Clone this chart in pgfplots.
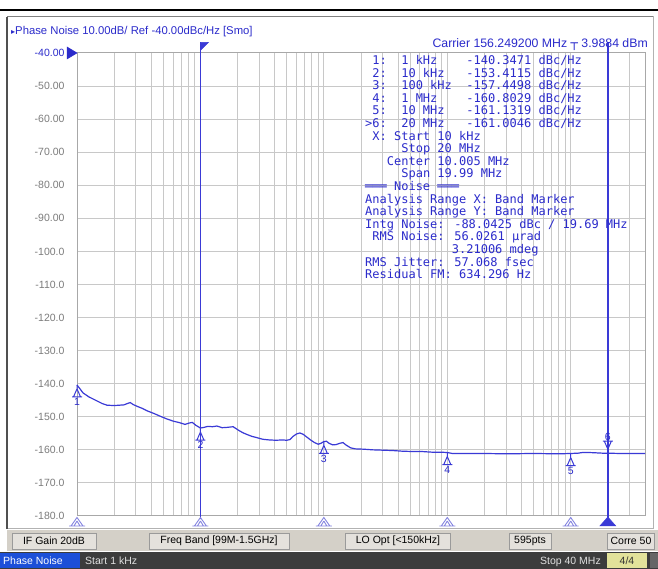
\documentclass[border=0pt]{standalone}
\usepackage{fontspec}
\setmainfont{Liberation Sans}
\newfontfamily\monof{DejaVu Sans Mono}
\newfontfamily\dejavu{DejaVu Sans}
\usepackage{pgfplots}
\pgfplotsset{compat=1.18}
\definecolor{tblue}{HTML}{2B2BCB}
\definecolor{trblue}{HTML}{3A3AD6}
\definecolor{gridg}{HTML}{C8C8C8}
\definecolor{frameg}{HTML}{A8A8A8}
\definecolor{labg}{HTML}{7C7C7C}
\definecolor{mkpurple}{HTML}{8484E0}
\definecolor{barbg}{HTML}{D4D0C8}
\definecolor{boxbg}{HTML}{E4E1DC}
\definecolor{boxedge}{HTML}{9A9A9A}
\definecolor{darkbar}{HTML}{3C3C3C}
\definecolor{pnblue}{HTML}{1C4FD8}
\definecolor{khaki}{HTML}{E2E29A}
\definecolor{panelg}{HTML}{505050}

\pgfdeclareplotmark{mkup}{%
 \pgfpathmoveto{\pgfpoint{0pt}{0pt}}\pgfpathlineto{\pgfpoint{0pt}{-4pt}}%
 \pgfpathmoveto{\pgfpoint{0pt}{-4pt}}\pgfpathlineto{\pgfpoint{3.5pt}{-12pt}}\pgfpathlineto{\pgfpoint{-3.5pt}{-12pt}}\pgfpathclose
 \pgfpathmoveto{\pgfpoint{-5pt}{-12pt}}\pgfpathlineto{\pgfpoint{5pt}{-12pt}}%
 \pgfusepathqstroke}
\pgfdeclareplotmark{mkdown}{%
 \pgfpathmoveto{\pgfpoint{0pt}{0pt}}\pgfpathlineto{\pgfpoint{0pt}{4pt}}%
 \pgfpathmoveto{\pgfpoint{0pt}{4pt}}\pgfpathlineto{\pgfpoint{3.5pt}{12pt}}\pgfpathlineto{\pgfpoint{-3.5pt}{12pt}}\pgfpathclose
 \pgfpathmoveto{\pgfpoint{-5pt}{12pt}}\pgfpathlineto{\pgfpoint{5pt}{12pt}}%
 \pgfusepathqstroke}
\pgfdeclareplotmark{axtri}{%
 \pgfpathmoveto{\pgfpoint{0pt}{-1.5pt}}\pgfpathlineto{\pgfpoint{6pt}{-10pt}}\pgfpathlineto{\pgfpoint{-6pt}{-10pt}}\pgfpathclose
 \pgfpathmoveto{\pgfpoint{0pt}{-5pt}}\pgfpathlineto{\pgfpoint{3pt}{-10pt}}%
 \pgfpathmoveto{\pgfpoint{0pt}{-5pt}}\pgfpathlineto{\pgfpoint{-3pt}{-10pt}}%
 \pgfpathmoveto{\pgfpoint{-8pt}{-10pt}}\pgfpathlineto{\pgfpoint{8pt}{-10pt}}%
 \pgfusepathqstroke}
\pgfdeclareplotmark{axtrif}{%
 \pgfpathmoveto{\pgfpoint{0pt}{-1pt}}\pgfpathlineto{\pgfpoint{8pt}{-10pt}}\pgfpathlineto{\pgfpoint{-8pt}{-10pt}}\pgfpathclose
 \pgfusepathqfillstroke}
\pgfdeclareplotmark{flag}{%
 \pgfpathmoveto{\pgfpoint{0pt}{0pt}}\pgfpathlineto{\pgfpoint{8pt}{0pt}}\pgfpathlineto{\pgfpoint{0pt}{-8pt}}\pgfpathclose
 \pgfusepathqfillstroke}
\pgfdeclareplotmark{refarrow}{%
 \pgfpathmoveto{\pgfpoint{-10pt}{6pt}}\pgfpathlineto{\pgfpoint{0pt}{0pt}}\pgfpathlineto{\pgfpoint{-10pt}{-6pt}}\pgfpathclose
 \pgfusepathqfillstroke}

\newcommand\mf{\monof\fontsize{12}{12.6}\selectfont}
\newcommand\uif{\fontsize{10.5}{12}\selectfont}
\newcommand\tif{\fontsize{11.3}{13}\selectfont}
\newcommand\cif{\fontsize{12.3}{14}\selectfont}

\begin{document}
\begin{tikzpicture}[x=1pt,y=1pt]
\useasboundingbox (0,0) rectangle (658,569);
\fill[white] (0,0) rectangle (658,569);
% top black line
\draw[black, line width=2] (0,559) -- (658,559);
% panel
\draw[draw=gray!60, fill=white, line width=1] (7,40) rectangle (653,552);
\draw[panelg, line width=2] (7,40) -- (7,552);
\draw[gray, line width=1] (7,552) -- (653,552);

\begin{axis}[
  at={(77pt,53pt)}, anchor=south west, scale only axis,
  width=568pt, height=463pt,
  xmode=log, xmin=1e3, xmax=4e7, ymin=-180, ymax=-40,
  xtick={1e3,1e4,1e5,1e6,1e7}, xticklabels={},
  minor xtick={2e3,3e3,4e3,5e3,6e3,7e3,8e3,9e3,2e4,3e4,4e4,5e4,6e4,7e4,8e4,9e4,2e5,3e5,4e5,5e5,6e5,7e5,8e5,9e5,2e6,3e6,4e6,5e6,6e6,7e6,8e6,9e6,2e7,3e7},
  ytick={-180,-170,...,-40},
  yticklabels={-180.0,-170.0,-160.0,-150.0,-140.0,-130.0,-120.0,-110.0,-100.0,-90.00,-80.00,-70.00,-60.00,-50.00,\textcolor{tblue}{-40.00}},
  yticklabel style={font=\uif, text=labg, xshift=-9pt},
  xmajorgrids, xminorgrids, ymajorgrids,
  grid style={draw=gridg, line width=1pt},
  minor grid style={draw=gridg, line width=1pt},
  major tick length=0pt, minor tick length=0pt,
  axis line style={draw=frameg, line width=1pt},
  clip=false,
]
% trace
\addplot[trblue, line width=1.2pt, mark=none] coordinates {
(1000,-140.4) (1060,-141.6) (1120,-142.8) (1250,-144.0) (1450,-145.2) (1600,-146.0)
(1750,-146.5) (2000,-146.6) (2200,-146.5) (2400,-146.4) (2600,-145.9) (2700,-145.7)
(2850,-146.3) (3100,-146.9) (3400,-147.5) (3700,-148.2) (4200,-149.0) (4700,-149.8)
(5300,-150.6) (6000,-151.3) (6800,-151.8) (7500,-152.3) (8100,-151.9) (8600,-151.7)
(9200,-152.6) (10000,-153.4) (10700,-153.2) (11500,-152.9) (12500,-153.0) (13600,-152.8)
(15000,-153.3) (16500,-153.2) (18400,-153.0) (20200,-154.0) (22000,-154.8) (24000,-155.4)
(26000,-155.9) (28600,-156.3) (32000,-156.8) (36000,-157.0) (41000,-157.1) (46000,-157.0)
(50000,-157.1) (53000,-156.9) (56000,-156.0) (60000,-155.2) (64000,-154.9) (68000,-155.3)
(72000,-156.0) (78000,-157.0) (84000,-157.8) (90000,-158.3) (95000,-158.0) (100000,-157.5)
(105000,-157.4) (110000,-158.0) (118000,-158.5) (126000,-158.4) (135000,-158.0) (143000,-157.8)
(152000,-158.6) (165000,-159.4) (180000,-159.7) (210000,-159.8) (250000,-160.0) (300000,-160.1)
(360000,-160.2) (430000,-160.4) (520000,-160.5) (620000,-160.5) (750000,-160.7) (880000,-160.7)
(1000000,-160.8) (1100000,-161.1) (1300000,-161.1) (2000000,-161.1) (3000000,-161.2) (5000000,-161.1)
(8000000,-161.2) (10000000,-161.1) (11500000,-161.0) (12500000,-160.8) (14000000,-160.8) (16000000,-160.9)
(18000000,-161.0) (20000000,-161.0) (25000000,-161.1) (32000000,-161.1) (40000000,-161.1)
};
% band marker lines
\addplot[trblue, line width=1.5pt, mark=none] coordinates {(1e4,-181) (1e4,-36.8)};
\addplot[trblue, line width=1.5pt, mark=none] coordinates {(2e7,-181) (2e7,-36.8)};
\addplot[only marks, mark=flag, mark options={fill=trblue, draw=trblue, line width=0.5pt}] coordinates {(1e4,-36.8)};
\addplot[only marks, mark=refarrow, mark options={fill=tblue, draw=tblue, line width=0.5pt}] coordinates {(1e3,-40)};
% axis markers
\addplot[only marks, mark=axtri, mark options={draw=mkpurple, line width=0.9pt}] coordinates {(1e3,-180) (1e4,-180) (1e5,-180) (1e6,-180) (1e7,-180)};
\addplot[only marks, mark=axtrif, mark options={fill=trblue, draw=trblue, line width=0.5pt}] coordinates {(2e7,-180)};
% trace markers
\addplot[only marks, mark=mkup, mark options={draw=trblue, line width=1pt},
  nodes near coords, point meta=explicit symbolic,
  every node near coord/.style={anchor=north, yshift=-12pt, font=\uif, text=tblue, inner sep=1pt}]
  coordinates {(1e3,-140.3471)[1] (1e4,-153.4115)[2] (1e5,-157.4498)[3] (1e6,-160.8029)[4] (1e7,-161.1319)[5]};
\addplot[only marks, mark=mkdown, mark options={draw=trblue, line width=1pt},
  nodes near coords, point meta=explicit symbolic,
  every node near coord/.style={anchor=south, yshift=11pt, font=\uif, text=tblue, inner sep=1pt}]
  coordinates {(2e7,-161.0046)[6]};
\end{axis}

% title
\node[anchor=base west, inner sep=0pt, text=tblue, font=\tif] at (11,534) {{\dejavu\fontsize{8}{8}\selectfont ▸}Phase Noise 10.00dB/ Ref -40.00dBc/Hz [Smo]};
% carrier
\node[anchor=base east, inner sep=0pt, text=tblue, font=\cif] at (648,521) {Carrier 156.249200 MHz {\dejavu ┬} 3.9884 dBm};

% marker table
\begin{scope}[every node/.style={anchor=base west, inner sep=0pt, text=tblue, font=\mf}]
\node at (365,504.5) {\ 1:\ \ 1 kHz\ \ \ \ -140.3471 dBc/Hz};
\node at (365,491.9) {\ 2:\ \ 10 kHz\ \ \ -153.4115 dBc/Hz};
\node at (365,479.3) {\ 3:\ \ 100 kHz\ \ -157.4498 dBc/Hz};
\node at (365,466.7) {\ 4:\ \ 1 MHz\ \ \ \ -160.8029 dBc/Hz};
\node at (365,454.1) {\ 5:\ \ 10 MHz\ \ \ -161.1319 dBc/Hz};
\node at (365,441.5) {>6:\ \ 20 MHz\ \ \ -161.0046 dBc/Hz};
\node at (365,428.9) {\ X:\ Start 10 kHz};
\node at (365,416.3) {\ \ \ \ \ Stop 20 MHz};
\node at (365,403.7) {\ \ \ Center 10.005 MHz};
\node at (365,391.1) {\ \ \ \ \ Span 19.99 MHz};
\node at (365,378.5) {═══ Noise ═══};
\node at (365,365.9) {Analysis Range X: Band Marker};
\node at (365,353.3) {Analysis Range Y: Band Marker};
\node at (365,340.7) {Intg Noise: -88.0425 dBc / 19.69 MHz};
\node at (365,328.1) {\ RMS Noise: 56.0261 µrad};
\node at (365,315.5) {\ \ \ \ \ \ \ \ \ \ \ \ 3.21006 mdeg};
\node at (365,302.9) {RMS Jitter: 57.068 fsec};
\node at (365,290.3) {Residual FM: 634.296 Hz};
\end{scope}

% gray status bar
\fill[barbg] (7,18) rectangle (658,39);
\begin{scope}[every node/.style={draw=boxedge, fill=boxbg, minimum height=16pt, inner sep=0pt, font=\uif, text=black}]
\node[minimum width=84pt] at (54,28) {IF Gain 20dB};
\node[minimum width=140pt] at (219,28) {Freq Band [99M-1.5GHz]};
\node[minimum width=105pt] at (398,28) {LO Opt [<150kHz]};
\node[minimum width=42pt] at (530,28) {595pts};
\node[minimum width=47pt] at (631,28) {Corre 50};
\end{scope}

% dark bottom bar
\fill[darkbar] (0,0) rectangle (658,17);
\fill[pnblue] (0,1) rectangle (80,16);
\node[anchor=base west, inner sep=0pt, text=white, font=\uif] at (3,4.5) {Phase Noise};
\node[anchor=base west, inner sep=0pt, text=white!88!black, font=\uif] at (85,4.5) {Start 1 kHz};
\node[anchor=base east, inner sep=0pt, text=white!88!black, font=\uif] at (601,4.5) {Stop 40 MHz};
\fill[khaki] (607,1) rectangle (647,16);
\node[anchor=base, inner sep=0pt, text=black!80, font=\uif] at (627,4.5) {4/4};
\fill[black!60] (650,1) rectangle (658,16);
\end{tikzpicture}
\end{document}
